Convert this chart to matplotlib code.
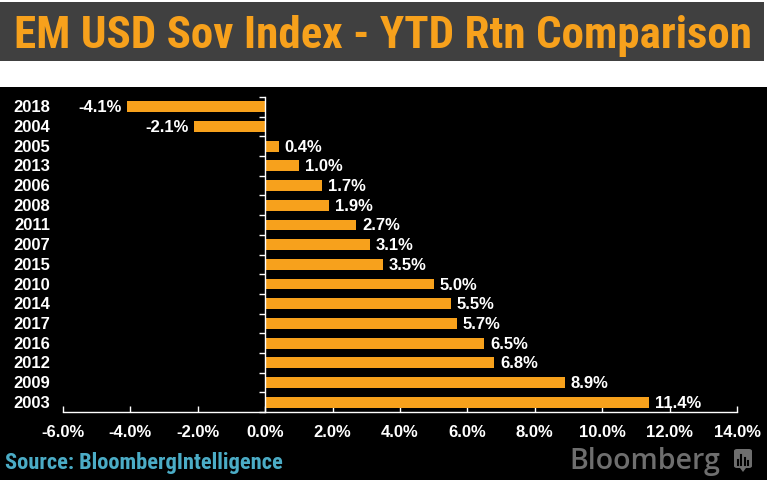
import matplotlib
matplotlib.use("Agg")
import matplotlib.pyplot as plt
from matplotlib.patches import Rectangle, FancyBboxPatch
from matplotlib.transforms import blended_transform_factory
from matplotlib import font_manager

years = ["2018", "2004", "2005", "2013", "2006", "2008", "2011", "2007",
         "2015", "2010", "2014", "2017", "2016", "2012", "2009", "2003"]
returns = [-4.1, -2.1, 0.4, 1.0, 1.7, 1.9, 2.7, 3.1, 3.5, 5.0, 5.5, 5.7,
           6.5, 6.8, 8.9, 11.4]
xticks = [-6, -4, -2, 0, 2, 4, 6, 8, 10, 12, 14]
title = "EM USD Sov Index - YTD Rtn Comparison"
source = "Source: BloombergIntelligence"

ORANGE = "#F7A11C"
W, H = 767, 481

names = {f.name for f in font_manager.fontManager.ttflist}
narrow_pref = ["Liberation Sans Narrow", "Arial Narrow", "Roboto Condensed", "PT Sans Narrow",
               "Barlow Semi Condensed", "Asap Condensed"]
NARROW = [n for n in narrow_pref if n in names][:1] + ["Liberation Sans", "DejaVu Sans"]
BOLD = ["Liberation Sans", "DejaVu Sans"]

fig = plt.figure(figsize=(W / 100, H / 100), dpi=100)
fig.patch.set_facecolor("white")

def px(x, y):
    return x / W, 1 - y / H

# title bar
fig.add_artist(Rectangle((0, 1 - 62 / H), 764 / W, 59 / H, transform=fig.transFigure,
                         facecolor="#404040", edgecolor="none", zorder=-10))
# black chart area
fig.add_artist(Rectangle((0, 0), 1, 1 - 88 / H, transform=fig.transFigure,
                         facecolor="black", edgecolor="none", zorder=-10))

tx, ty = px(14, 36)
fig.text(tx, ty, title, color=ORANGE, fontsize=32.4, fontweight="bold",
         family=NARROW, ha="left", va="center")

left, right = 63, 737
top, bottom = 98, 413
ax = fig.add_axes([left / W, 1 - bottom / H, (right - left) / W, (bottom - top) / H])
ax.set_facecolor("black")

n = len(years)
ypos = list(range(n))
ax.barh(ypos, returns, height=0.55, color=ORANGE, zorder=2)
ax.set_xlim(-6, 14)
ax.set_ylim(n - 0.5, -0.5)

for s in ["top", "right"]:
    ax.spines[s].set_visible(False)
ax.spines["left"].set_position(("data", 0))
ax.spines["left"].set_color("white")
ax.spines["bottom"].set_color("white")
ax.spines["left"].set_linewidth(1)
ax.spines["bottom"].set_linewidth(1)

ax.set_yticks([i - 0.5 for i in range(n + 1)])
ax.set_yticklabels([])
ax.tick_params(axis="y", direction="out", length=4, color="white", width=1)

ax.set_xticks(xticks)
ax.set_xticklabels([f"{v:.1f}%" for v in xticks], color="white", fontsize=12,
                   fontweight="bold", family=BOLD)
ax.tick_params(axis="x", direction="in", length=4, color="white", width=1, pad=9)

trans = blended_transform_factory(fig.transFigure, ax.transData)
for i, yr in enumerate(years):
    ax.text(50 / W, i, yr, transform=trans, ha="right", va="center", color="white",
            fontsize=12, fontweight="bold", family=BOLD)

for i, v in enumerate(returns):
    off = 0.17 if v >= 0 else -0.17
    ax.text(v + off, i, f"{v:.1f}%", ha="left" if v >= 0 else "right", va="center",
            color="white", fontsize=12, fontweight="bold", family=BOLD)

sx, sy = px(5, 463)
fig.text(sx, sy, source, color="#4BACC6", fontsize=16.2, fontweight="bold",
         family=NARROW, ha="left", va="center")

bx, by = px(720, 462)
fig.text(bx, by, "Bloomberg", color="#6E6E6E", fontsize=20.5, fontweight="semibold",
         family=["Open Sans", "DejaVu Sans"], ha="right", va="center")

# small Bloomberg chat icon
ix, iy = px(734, 469)
fig.add_artist(FancyBboxPatch((ix, iy), 18 / W, 19 / H, boxstyle="round,pad=0,rounding_size=0.004",
                              transform=fig.transFigure, facecolor="#6E6E6E", edgecolor="none"))
fig.add_artist(plt.Polygon([px(740, 469), px(746, 469), px(743, 473)], closed=True,
                           transform=fig.transFigure, facecolor="#6E6E6E", edgecolor="none"))
for k, hgt in enumerate([5, 10, 7, 4]):
    x0 = 737.5 + k * 3.5
    fig.add_artist(plt.Line2D([x0 / W, x0 / W], [1 - 466 / H, 1 - (466 - hgt) / H],
                              transform=fig.transFigure, color="black", linewidth=1.5))

fig.savefig("out.png", dpi=100, facecolor=fig.get_facecolor())
